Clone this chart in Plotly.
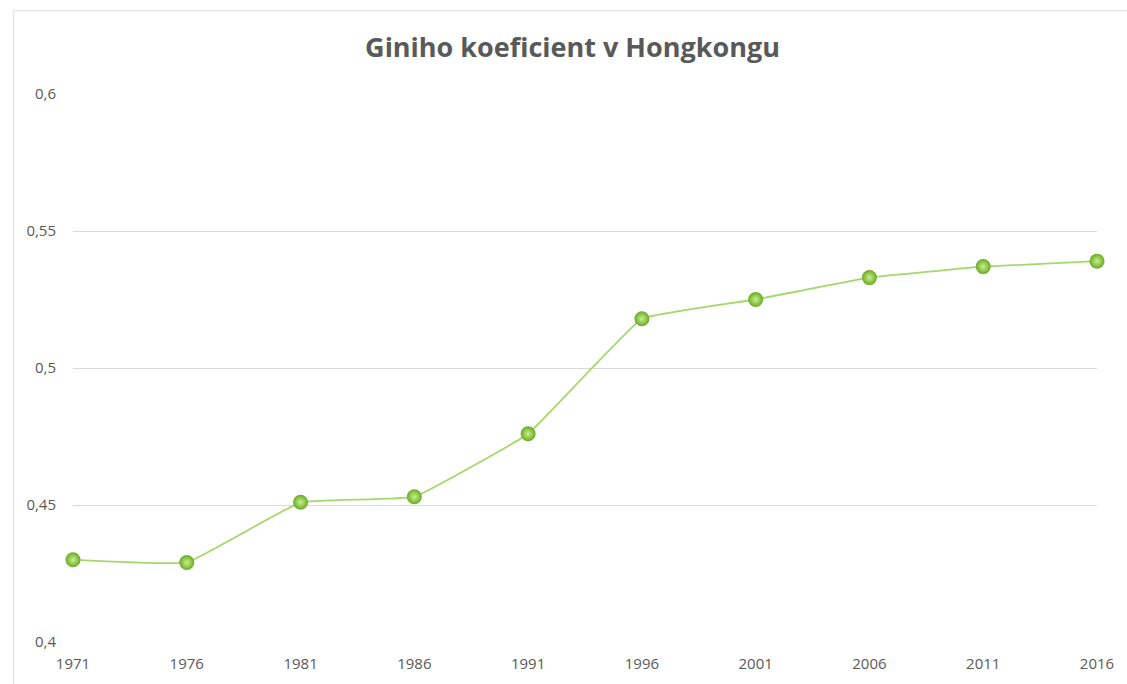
import plotly.graph_objects as go

years = ["1971", "1976", "1981", "1986", "1991", "1996", "2001", "2006", "2011", "2016"]
gini = [0.430, 0.429, 0.451, 0.453, 0.476, 0.518, 0.525, 0.533, 0.537, 0.539]
y_ticks = [0.4, 0.45, 0.5, 0.55, 0.6]
title_text = "Giniho koeficient v Hongkongu"

fig = go.Figure()
fig.add_trace(go.Scatter(
    x=years, y=gini, mode="lines+markers",
    line=dict(color="#a3d86a", width=1.8, shape="spline", smoothing=0.25),
    marker=dict(size=15, color="#6aaa24",
                gradient=dict(type="radial", color="#c9f08c"),
                line=dict(width=0)),
    cliponaxis=False, hoverinfo="x+y",
))

fig.update_layout(
    width=1127, height=684,
    margin=dict(l=73, r=30, t=94, b=42),
    paper_bgcolor="white", plot_bgcolor="white",
    separators=", ",
    showlegend=False,
    title=dict(text="<b>" + title_text + "</b>", x=0.508, xanchor="center",
               y=0.931, yanchor="middle",
               font=dict(family="Open Sans", size=27, color="#595959")),
    font=dict(family="Open Sans", size=15, color="#595959"),
    xaxis=dict(type="category", range=[0, 9], showgrid=False, zeroline=False,
               showline=False, ticks="", ticklabelstandoff=11,
               tickfont=dict(size=15, color="#595959")),
    yaxis=dict(range=[0.4, 0.6], tickvals=y_ticks, showgrid=True,
               gridcolor="#d9d9d9", gridwidth=1, zeroline=False, showline=False,
               ticks="", ticklabelstandoff=16,
               tickfont=dict(size=15, color="#595959")),
    shapes=[
        dict(type="line", xref="paper", yref="paper", x0=-0.058, x1=-0.058,
             y0=-0.1, y1=1.152, line=dict(color="#dcdcdc", width=1)),
        dict(type="line", xref="paper", yref="paper", x0=-0.058, x1=1.03,
             y0=1.152, y1=1.152, line=dict(color="#dcdcdc", width=1)),
    ],
)

fig.write_html("out.html")
